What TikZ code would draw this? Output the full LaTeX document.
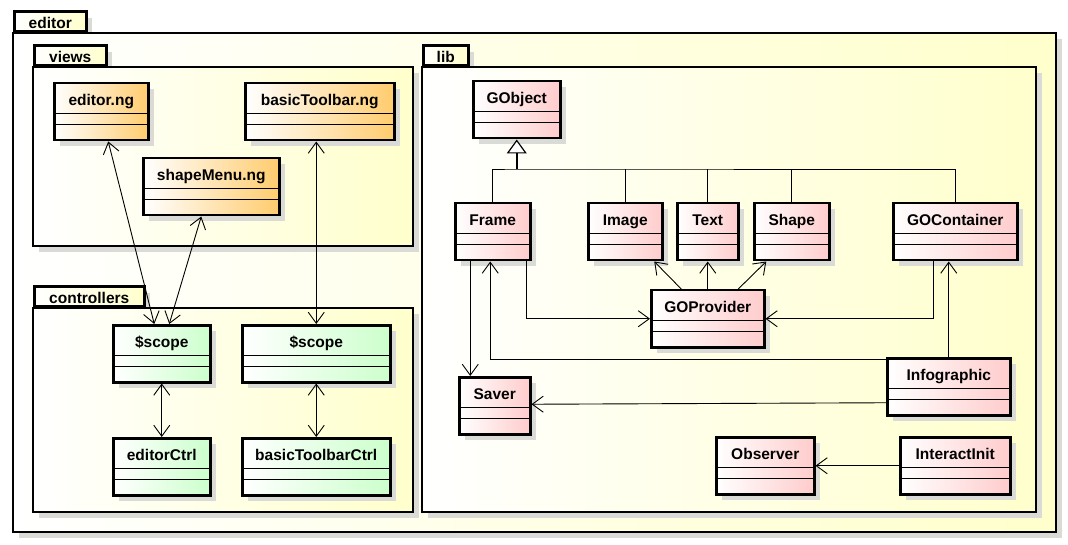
\documentclass[tikz,border=0pt]{standalone}
\usepackage{fontspec}
\setmainfont{Liberation Sans}
\usetikzlibrary{positioning, arrows.meta, shadows}
\definecolor{pkgyellow}{RGB}{255,255,204}
\definecolor{vieworange}{RGB}{255,204,110}
\definecolor{ctrlgreen}{RGB}{204,255,204}
\definecolor{libpink}{RGB}{255,204,204}
\definecolor{shadowgray}{RGB}{218,218,214}
\tikzset{
font=\bfseries\fontsize{15.5}{18}\selectfont, % bold sans text for every name
boxshadow/.style={drop shadow={shadow xshift=6pt, shadow yshift=-6pt, fill=shadowgray, opacity=1}}, % flat grey shadow
pkgbody/.style={draw, line width=2.5pt, left color=white, right color=pkgyellow, boxshadow}, % the big package frame
pkgtab/.style={draw, line width=2.5pt, left color=white, right color=pkgyellow, boxshadow, anchor=south west, inner xsep=0pt, inner ysep=0pt, text height=17pt, text depth=3pt}, % the small tab on top
umlclass/.style={draw, rectangle, line width=2.5pt, anchor=north west, inner xsep=0pt, inner ysep=0pt, text height=22pt, text depth=35pt, boxshadow, left color=white,
  path picture={\draw[line width=1pt] ([yshift=-30.5pt]path picture bounding box.north west) -- ([yshift=-30.5pt]path picture bounding box.north east)
    ([yshift=-41pt]path picture bounding box.north west) -- ([yshift=-41pt]path picture bounding box.north east);}}, % name, attributes, operations
view/.style={umlclass, right color=vieworange},
ctrl/.style={umlclass, right color=ctrlgreen},
lib/.style={umlclass, right color=libpink},
assoc/.style={-{Straight Barb[length=11pt,width=16pt]}, line width=0.9pt}, % open arrow head
biassoc/.style={{Straight Barb[length=11pt,width=16pt]}-{Straight Barb[length=11pt,width=16pt]}, line width=0.9pt},
inherit/.style={-{Triangle[open,fill=white,length=14pt,width=20pt,line width=1.2pt]}, line width=2pt}, % hollow triangle
gentree/.style={line width=0.9pt},
}

\begin{document}
\begin{tikzpicture}[x=1pt, y=-1pt]
    \useasboundingbox (0,0) rectangle (1068,545);

    \node[pkgtab, minimum width=72pt] (editorTab) at (13,33) {editor};
    \draw[pkgbody] (13,33) rectangle (1056,532);

    \node[pkgtab, minimum width=72pt] (viewsTab) at (33,67) {views};
    \draw[pkgbody] (33,67) rectangle (413,246);
    \node[pkgtab, minimum width=110pt] (controllersTab) at (33,308) {controllers};
    \draw[pkgbody] (33,308) rectangle (413,512);
    \node[pkgtab, minimum width=45pt] (libTab) at (422,67) {lib};
    \draw[pkgbody] (422,67) rectangle (1036,512);

    \node[view, minimum width=94pt] (editorNg) at (53,82) {editor.ng};
    \node[view, minimum width=149pt, right=94.5pt of editorNg] (toolbarNg) {basicToolbar.ng};
    \node[view, minimum width=136pt] (shapeMenuNg) at (142,157) {shapeMenu.ng};

    \node[ctrl, minimum width=97pt] (scopeEditor) at (112,324) {\$scope};
    \node[ctrl, minimum width=148pt, right=29.5pt of scopeEditor] (scopeToolbar) {\$scope};
    \node[ctrl, minimum width=97pt, below=53.5pt of scopeEditor] (editorCtrl) {editorCtrl};
    \node[ctrl, minimum width=148pt, below=53.5pt of scopeToolbar] (toolbarCtrl) {basicToolbarCtrl};

    \node[lib, minimum width=87pt] (gobject) at (472,80) {GObject};
    \node[lib, minimum width=75pt] (frame) at (454,202) {Frame};
    \node[lib, minimum width=74pt, right=55.5pt of frame] (image) {Image};
    \node[lib, minimum width=61pt, right=12.5pt of image] (text) {Text};
    \node[lib, minimum width=75pt, right=13.5pt of text] (shape) {Shape};
    \node[lib, minimum width=124pt, right=61.5pt of shape] (gocontainer) {GOContainer};
    \node[lib, minimum width=113pt] (goprovider) at (650,289) {GOProvider};
    \node[lib, minimum width=71pt] (saver) at (458,376) {Saver};
    \node[lib, minimum width=123pt] (infographic) at (886,357) {Infographic};
    \node[lib, minimum width=98pt] (observer) at (715,436) {Observer};
    \node[lib, minimum width=110pt, right=83.5pt of observer] (interactinit) {InteractInit};

    \draw[biassoc] ([xshift=7pt]editorNg.south) -- ([xshift=-7.5pt]scopeEditor.north);
    \draw[biassoc] ([xshift=-10pt]shapeMenuNg.south) -- ([xshift=7.5pt]scopeEditor.north);
    \draw[biassoc] (scopeToolbar.north |- toolbarNg.south) -- (scopeToolbar.north);
    \draw[biassoc] (scopeEditor) -- (editorCtrl);
    \draw[biassoc] (scopeToolbar) -- (toolbarCtrl);

    \coordinate (genjoin) at (gobject.south |- 0,169);
    \draw[gentree] (frame.north) |- (genjoin) -| (gocontainer.north);
    \draw[gentree] (image.north) -- (image.north |- genjoin)
    (text.north) -- (text.north |- genjoin)
    (shape.north) -- (shape.north |- genjoin);
    \draw[inherit] (genjoin) -- (gobject);

    \draw[assoc] ([xshift=-22.5pt]frame.south) -- ([xshift=-22.5pt]frame.south |- saver.north);
    \draw[assoc] ([xshift=34pt]frame.south) |- (goprovider.west);
    \draw[assoc] ([xshift=-22pt]gocontainer.south) |- (goprovider.east);
    \draw[assoc] ([xshift=-26.5pt]goprovider.north) -- ([xshift=29pt]image.south);
    \draw[assoc] (goprovider) -- (text);
    \draw[assoc] ([xshift=30.5pt]goprovider.north) -- ([xshift=-25.5pt]shape.south);
    \draw[assoc] (infographic.north) -- (infographic.north |- gocontainer.south);
    \draw[assoc] ([yshift=-2pt]infographic.north west) -| ([xshift=-2.5pt]frame.south);
    \draw[assoc] ([yshift=-16pt]infographic.west) -- ([yshift=1.5pt]saver.east);
    \draw[assoc] (interactinit) -- (observer);
  \end{tikzpicture}
\end{document}
